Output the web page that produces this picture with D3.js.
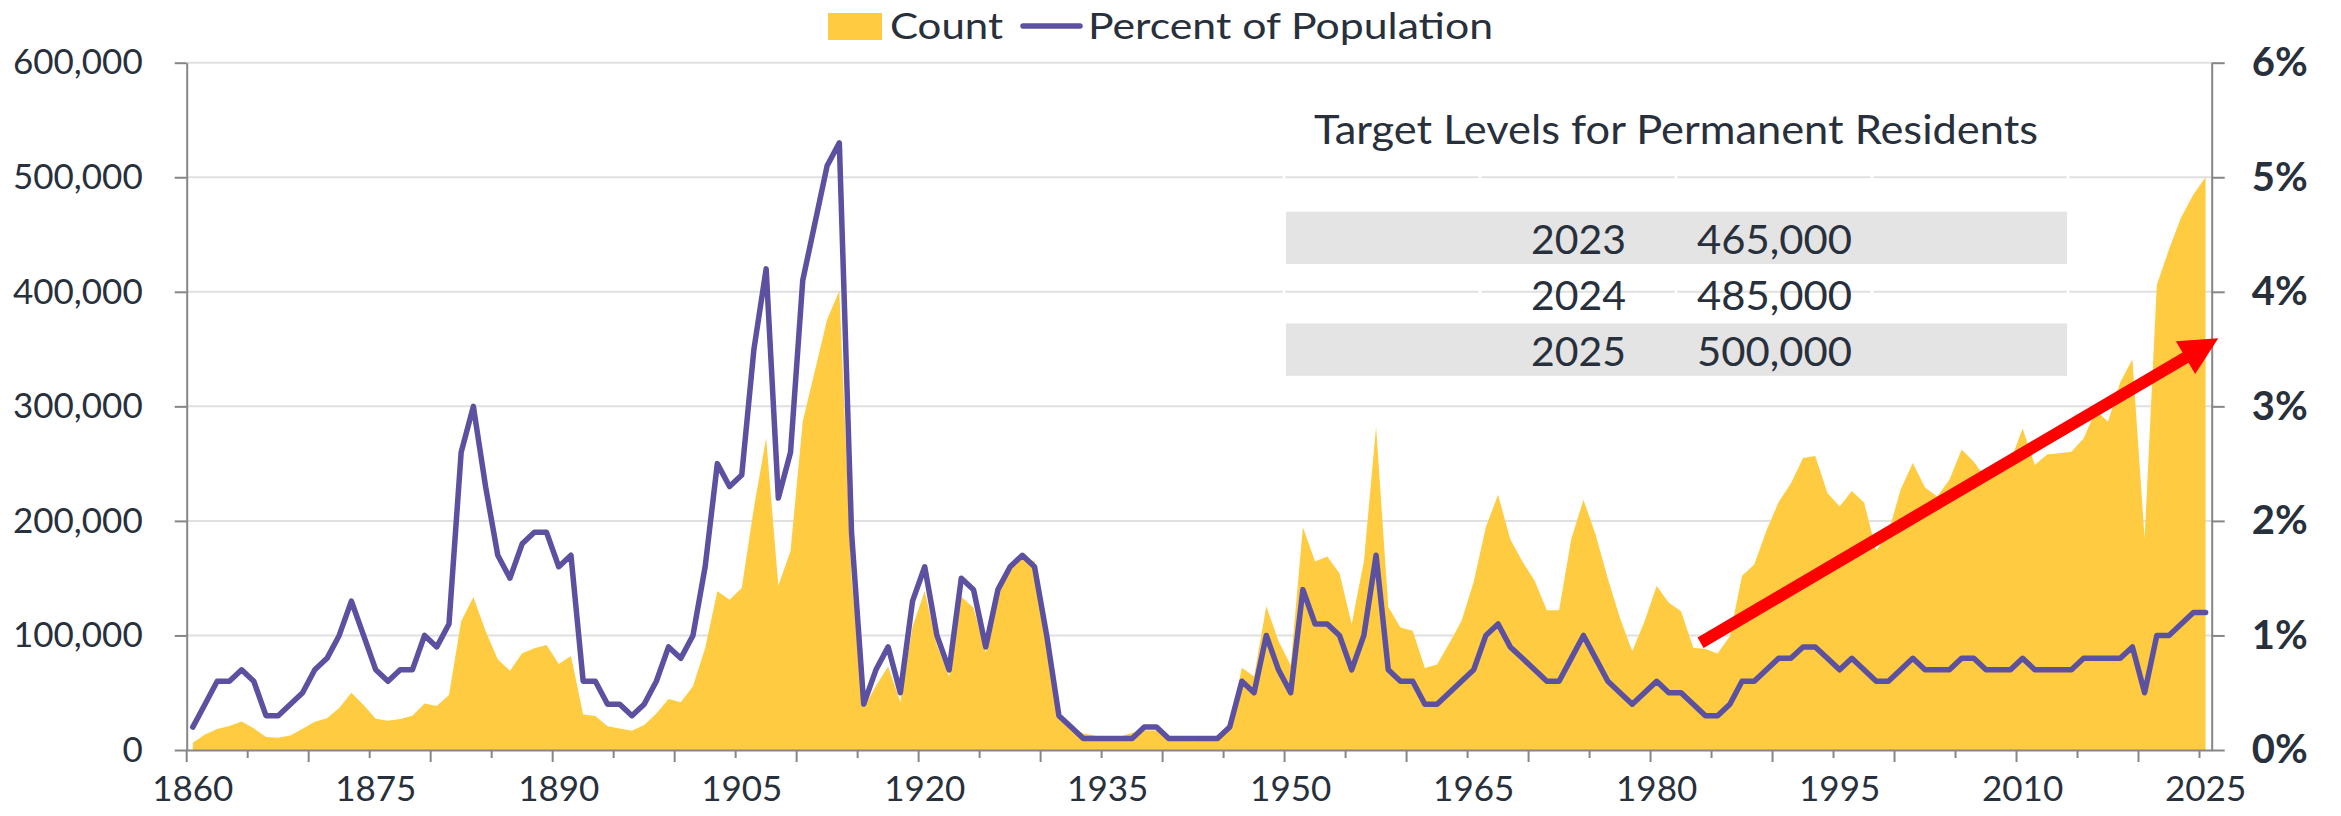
<!DOCTYPE html>
<html>
<head>
<meta charset="utf-8">
<script src="https://cdn.jsdelivr.net/npm/d3@7"></script>
<style>
  html, body { margin: 0; padding: 0; background: #ffffff; }
  svg text { font-family: Lato, "Open Sans", sans-serif; }
</style>
</head>
<body>
<svg id="chart" width="2341" height="816"></svg>
<script>
// ---------------- DATA ----------------
const years = [
  1860,1861,1862,1863,1864,1865,1866,1867,1868,1869,
  1870,1871,1872,1873,1874,1875,1876,1877,1878,1879,
  1880,1881,1882,1883,1884,1885,1886,1887,1888,1889,
  1890,1891,1892,1893,1894,1895,1896,1897,1898,1899,
  1900,1901,1902,1903,1904,1905,1906,1907,1908,1909,
  1910,1911,1912,1913,1914,1915,1916,1917,1918,1919,
  1920,1921,1922,1923,1924,1925,1926,1927,1928,1929,
  1930,1931,1932,1933,1934,1935,1936,1937,1938,1939,
  1940,1941,1942,1943,1944,1945,1946,1947,1948,1949,
  1950,1951,1952,1953,1954,1955,1956,1957,1958,1959,
  1960,1961,1962,1963,1964,1965,1966,1967,1968,1969,
  1970,1971,1972,1973,1974,1975,1976,1977,1978,1979,
  1980,1981,1982,1983,1984,1985,1986,1987,1988,1989,
  1990,1991,1992,1993,1994,1995,1996,1997,1998,1999,
  2000,2001,2002,2003,2004,2005,2006,2007,2008,2009,
  2010,2011,2012,2013,2014,2015,2016,2017,2018,2019,
  2020,2021,2022,2023,2024,2025
];

// Count (permanent residents admitted)
const counts = [
  6276,13589,18294,21000,24779,18958,11427,10666,12765,18630,
  24706,27773,36578,50050,39373,27382,25633,27082,29807,40492,
  38505,47991,112458,133624,103824,79169,69152,84526,88766,91600,
  75067,82165,30996,29633,20829,18790,16835,21716,31900,44543,
  41681,55747,89102,138660,131252,141465,211653,272409,143326,173694,
  286839,331288,375756,400870,150484,36665,55914,72910,41845,107698,
  138824,91728,64224,133729,124164,84907,135982,158886,166783,164993,
  104806,27530,20591,14382,12476,11277,11643,15101,17244,16994,
  11324,9329,7576,8504,12801,22722,71719,64127,125414,95217,
  73912,194391,164498,168868,154227,109946,164857,282164,124851,106928,
  104111,71689,74586,93151,112606,146758,194743,222876,183974,164531,
  147713,121900,122006,184200,218465,187881,149429,114914,86313,112093,
  143117,128618,121147,89157,88239,84302,99219,152098,161929,191556,
  216452,232744,254817,256741,224364,212504,226073,216038,174195,189951,
  227458,250640,229091,221349,235823,262242,251640,236758,247243,252179,
  280691,248748,257903,259023,260404,271845,296346,286479,321045,341180,
  184595,405999,437180,465000,485000,500000
];

// Percent of population
const pctOfPop = [
  0.2,0.4,0.6,0.6,0.7,0.6,0.3,0.3,0.4,0.5,
  0.7,0.8,1.0,1.3,1.0,0.7,0.6,0.7,0.7,1.0,
  0.9,1.1,2.6,3.0,2.3,1.7,1.5,1.8,1.9,1.9,
  1.6,1.7,0.6,0.6,0.4,0.4,0.3,0.4,0.6,0.9,
  0.8,1.0,1.6,2.5,2.3,2.4,3.5,4.2,2.2,2.6,
  4.1,4.6,5.1,5.3,1.9,0.4,0.7,0.9,0.5,1.3,
  1.6,1.0,0.7,1.5,1.4,0.9,1.4,1.6,1.7,1.6,
  1.0,0.3,0.2,0.1,0.1,0.1,0.1,0.1,0.2,0.2,
  0.1,0.1,0.1,0.1,0.1,0.2,0.6,0.5,1.0,0.7,
  0.5,1.4,1.1,1.1,1.0,0.7,1.0,1.7,0.7,0.6,
  0.6,0.4,0.4,0.5,0.6,0.7,1.0,1.1,0.9,0.8,
  0.7,0.6,0.6,0.8,1.0,0.8,0.6,0.5,0.4,0.5,
  0.6,0.5,0.5,0.4,0.3,0.3,0.4,0.6,0.6,0.7,
  0.8,0.8,0.9,0.9,0.8,0.7,0.8,0.7,0.6,0.6,
  0.7,0.8,0.7,0.7,0.7,0.8,0.8,0.7,0.7,0.7,
  0.8,0.7,0.7,0.7,0.7,0.8,0.8,0.8,0.8,0.9,
  0.5,1.0,1.0,1.1,1.2,1.2
];

const xLabelYears = [1860,1875,1890,1905,1920,1935,1950,1965,1980,1995,2010,2025];
const xTickYears = [1860,1865,1870,1875,1880,1885,1890,1895,1900,1905,1910,1915,1920,1925,
  1930,1935,1940,1945,1950,1955,1960,1965,1970,1975,1980,1985,1990,1995,2000,2005,2010,
  2015,2020,2025];
const leftTicks = [0,100000,200000,300000,400000,500000,600000];
const rightTicks = [0,1,2,3,4,5,6];
const legendLabels = ["Count", "Percent of Population"];

const tableTitle = "Target Levels for Permanent Residents";
const targetYears = ["2023", "2024", "2025"];
const targetCounts = ["465,000", "485,000", "500,000"];

// trend arrow annotation, in data space [year, count]
const arrowFrom = [1983.6, 93600];
const arrowTo = [2026.04, 359400];

// ---------------- LAYOUT / STYLE ----------------
const plotLeft = 186.7, plotRight = 2211.7, plotTop = 62.7, plotBottom = 750;
const colArea = "#FFCB40", colLine = "#5C50A0", colText = "#28303C";
const colAxis = "#868686", colGrid = "#E0E0E0";

const svg = d3.select("#chart");

const x = d3.scaleBand().domain(years).range([plotLeft, plotRight]).paddingInner(0).paddingOuter(0);
const bw = x.bandwidth();
const xc = yr => x(yr) + bw / 2;
const xYear = d3.scaleLinear().domain([years[0], years[years.length - 1]])
  .range([xc(years[0]), xc(years[years.length - 1])]);
const yL = d3.scaleLinear().domain([0, 600000]).range([plotBottom, plotTop]);
const yR = d3.scaleLinear().domain([0, 6]).range([plotBottom, plotTop]);

const data = years.map((yr, i) => ({ year: yr, count: counts[i], pct: pctOfPop[i] }));

// gridlines
svg.append("g").selectAll("line").data(leftTicks.filter(d => d > 0)).join("line")
  .attr("x1", plotLeft).attr("x2", plotRight)
  .attr("y1", d => yL(d)).attr("y2", d => yL(d))
  .attr("stroke", colGrid).attr("stroke-width", 2);

// table: column borders (white) that cut gridlines, grey banded rows
const tableLeft = 1284, tableRight = 2068;
const colBorders = d3.range(5).map(i => tableLeft + i * (tableRight - tableLeft) / 4);
svg.append("g").selectAll("line").data(colBorders).join("line")
  .attr("x1", d => d).attr("x2", d => d).attr("y1", 150).attr("y2", 380)
  .attr("stroke", "#ffffff").attr("stroke-width", 3);

const rowTop = 211.7, rowH = 55.9;
svg.append("g").selectAll("rect").data(targetYears).join("rect")
  .attr("x", tableLeft + 2).attr("width", tableRight - tableLeft - 3)
  .attr("y", (d, i) => rowTop + i * rowH).attr("height", 52.3)
  .attr("fill", (d, i) => i % 2 === 0 ? "#E4E4E4" : "none");

svg.append("text").attr("x", (tableLeft + tableRight) / 2).attr("y", 143.5)
  .attr("text-anchor", "middle").attr("font-size", 41).attr("fill", colText)
  .attr("textLength", 724).attr("lengthAdjust", "spacingAndGlyphs")
  .text(tableTitle);

svg.append("g").selectAll("text").data(targetYears).join("text")
  .attr("x", 1626).attr("y", (d, i) => 254 + i * rowH)
  .attr("text-anchor", "end").attr("font-size", 40).attr("fill", colText)
  .attr("textLength", 95).attr("lengthAdjust", "spacingAndGlyphs")
  .text(d => d);
svg.append("g").selectAll("text").data(targetCounts).join("text")
  .attr("x", 1852).attr("y", (d, i) => 254 + i * rowH)
  .attr("text-anchor", "end").attr("font-size", 40).attr("fill", colText)
  .attr("textLength", 155).attr("lengthAdjust", "spacingAndGlyphs")
  .text(d => d);

// area (count)
const area = d3.area().x(d => xc(d.year)).y0(yL(0)).y1(d => yL(d.count));
svg.append("path").datum(data).attr("d", area).attr("fill", colArea);

// line (percent)
const line = d3.line().x(d => xc(d.year)).y(d => yR(d.pct));
svg.append("path").datum(data).attr("d", line)
  .attr("fill", "none").attr("stroke", colLine).attr("stroke-width", 5.5)
  .attr("stroke-linejoin", "round").attr("stroke-linecap", "round");

// left axis
const gL = svg.append("g").attr("transform", `translate(${plotLeft},0)`)
  .call(d3.axisLeft(yL).tickValues(leftTicks).tickFormat(d3.format(","))
    .tickSize(12).tickSizeOuter(0).tickPadding(32));
gL.selectAll("text").attr("font-size", 35).attr("fill", colText).attr("font-family", "Lato");
// right axis
const gR = svg.append("g").attr("transform", `translate(${plotRight},0)`)
  .call(d3.axisRight(yR).tickValues(rightTicks).tickFormat(d => d + "%")
    .tickSize(13).tickSizeOuter(0).tickPadding(27));
gR.selectAll("text").attr("font-size", 40).attr("font-weight", "bold").attr("fill", colText)
  .attr("font-family", "Lato");
// bottom axis: labels centred on categories
const gB = svg.append("g").attr("transform", `translate(0,${plotBottom})`)
  .call(d3.axisBottom(x).tickValues(xLabelYears).tickSize(0).tickSizeOuter(0).tickPadding(26));
gB.selectAll("text").attr("font-size", 35).attr("fill", colText).attr("font-family", "Lato")
  .attr("dy", "0.71em");
// bottom tick marks on category boundaries (long on decades)
svg.append("g").selectAll("line").data(xTickYears).join("line")
  .attr("x1", d => x(d)).attr("x2", d => x(d))
  .attr("y1", plotBottom).attr("y2", d => plotBottom + (d % 10 === 0 ? 12 : 8))
  .attr("stroke", colAxis).attr("stroke-width", 2);

[gL, gR, gB].forEach(g => {
  g.selectAll("path.domain").attr("stroke", colAxis).attr("stroke-width", 2);
  g.selectAll(".tick line").attr("stroke", colAxis).attr("stroke-width", 2);
});

// red trend arrow
const ax1 = xYear(arrowFrom[0]), ay1 = yL(arrowFrom[1]);
const ax2 = xYear(arrowTo[0]), ay2 = yL(arrowTo[1]);
const len = Math.hypot(ax2 - ax1, ay2 - ay1);
const ux = (ax2 - ax1) / len, uy = (ay2 - ay1) / len;
const headL = 38, headW = 19;
const bx = ax2 - ux * headL, by = ay2 - uy * headL;
svg.append("line").attr("x1", ax1).attr("y1", ay1).attr("x2", bx + ux * 2).attr("y2", by + uy * 2)
  .attr("stroke", "#FF0000").attr("stroke-width", 12);
svg.append("path")
  .attr("d", `M${ax2},${ay2}L${bx - uy * headW},${by + ux * headW}L${bx + uy * headW},${by - ux * headW}Z`)
  .attr("fill", "#FF0000");

// legend
const lg = svg.append("g");
lg.append("rect").attr("x", 828).attr("y", 13).attr("width", 54).attr("height", 27).attr("fill", colArea);
lg.append("text").attr("x", 890).attr("y", 39).attr("font-size", 37).attr("fill", colText)
  .attr("textLength", 113).attr("lengthAdjust", "spacingAndGlyphs").text(legendLabels[0]);
lg.append("line").attr("x1", 1023).attr("x2", 1080).attr("y1", 26).attr("y2", 26)
  .attr("stroke", colLine).attr("stroke-width", 5.5).attr("stroke-linecap", "round");
lg.append("text").attr("x", 1088).attr("y", 39).attr("font-size", 37).attr("fill", colText)
  .attr("textLength", 405).attr("lengthAdjust", "spacingAndGlyphs").text(legendLabels[1]);
</script>
</body>
</html>
